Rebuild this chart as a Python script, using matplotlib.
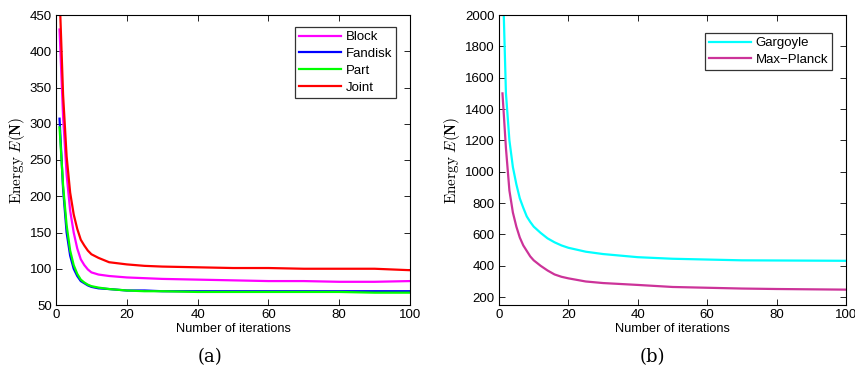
import numpy as np
import matplotlib
matplotlib.use('Agg')
import matplotlib.pyplot as plt

plt.rcParams['font.family'] = ['Liberation Sans', 'DejaVu Sans']
plt.rcParams['mathtext.fontset'] = 'cm'

# left panel data (iteration -> energy)
iters_a = [1, 2, 3, 4, 5, 6, 7, 8, 9, 10, 12, 15, 20, 25, 30, 40, 50, 60, 70, 80, 90, 100]
block = [430, 310, 230, 180, 150, 128, 113, 105, 99, 95, 92, 90, 88, 87, 86, 85, 84, 83, 83, 82, 82, 83]
fandisk = [307, 210, 150, 118, 100, 90, 83, 80, 77, 75, 73, 72, 70, 70, 69, 69, 69, 69, 69, 69, 69, 69]
part = [295, 215, 160, 125, 105, 93, 85, 81, 78, 76, 74, 72, 70, 69, 69, 68, 68, 68, 68, 68, 67, 67]
joint = [480, 340, 255, 205, 175, 155, 140, 132, 125, 120, 115, 109, 106, 104, 103, 102, 101, 101, 100, 100, 100, 98]

# right panel data
iters_b = [1, 2, 3, 4, 5, 6, 7, 8, 9, 10, 12, 14, 16, 18, 20, 25, 30, 40, 50, 60, 70, 80, 90, 100]
gargoyle = [2300, 1500, 1200, 1030, 920, 830, 770, 715, 680, 650, 610, 575, 550, 530, 515, 490, 475, 455,
            445, 440, 435, 434, 433, 432]
max_planck = [1500, 1150, 880, 740, 650, 580, 530, 495, 460, 435, 400, 370, 345, 330, 320, 300, 290, 278,
              265, 260, 255, 252, 250, 248]

fig = plt.figure(figsize=(8.55, 3.73), dpi=100)
W, H = 855, 373
ax1 = fig.add_axes([56 / W, 1 - 305 / H, (410 - 56) / W, (305 - 15) / H])
ax2 = fig.add_axes([499 / W, 1 - 305 / H, (846 - 499) / W, (305 - 15) / H])

ax1.plot(iters_a, block, color='#ff00ff', lw=1.6, label='Block')
ax1.plot(iters_a, fandisk, color='#0000ff', lw=1.6, label='Fandisk')
ax1.plot(iters_a, part, color='#00ff00', lw=1.6, label='Part')
ax1.plot(iters_a, joint, color='#ff0000', lw=1.6, label='Joint')
ax1.set_xlim(0, 100)
ax1.set_ylim(50, 450)
ax1.set_yticks(np.arange(50, 451, 50))

ax2.plot(iters_b, gargoyle, color='#00ffff', lw=1.6, label='Gargoyle')
ax2.plot(iters_b, max_planck, color='#cc3399', lw=1.6, label='Max\u2212Planck')
ax2.set_xlim(0, 100)
ax2.set_ylim(150, 2000)
ax2.set_yticks(np.arange(200, 2001, 200))

for ax in (ax1, ax2):
    ax.set_xticks(np.arange(0, 101, 20))
    ax.tick_params(direction='in', top=True, right=True, labelsize=9.5, length=4, width=0.6, pad=3)
    for s in ax.spines.values():
        s.set_linewidth(0.8)
    ax.set_xlabel('Number of iterations', fontsize=9.2, labelpad=1)
    ax.set_ylabel(r'$\mathrm{Energy}\ E(\mathbf{N})$', fontsize=11, labelpad=2)

leg_kw = dict(loc='upper right', fontsize=9.5, frameon=True, fancybox=False, edgecolor='black',
              handlelength=3.2, handletextpad=0.35, borderpad=0.3, labelspacing=0.35, borderaxespad=0)
leg1 = ax1.legend(bbox_to_anchor=((396 - 56) / (410 - 56), (305 - 27) / 290), **leg_kw)
leg1.get_frame().set_linewidth(0.9)
leg2 = ax2.legend(bbox_to_anchor=((832 - 499) / (846 - 499), (305 - 33) / 290), **leg_kw)
leg2.get_frame().set_linewidth(0.9)

fig.text(210 / W, 1 - 357 / H, '(a)', family='DejaVu Serif', fontsize=13, ha='center', va='center')
fig.text(652 / W, 1 - 357 / H, '(b)', family='DejaVu Serif', fontsize=13, ha='center', va='center')

fig.savefig('out.png', dpi=100)
